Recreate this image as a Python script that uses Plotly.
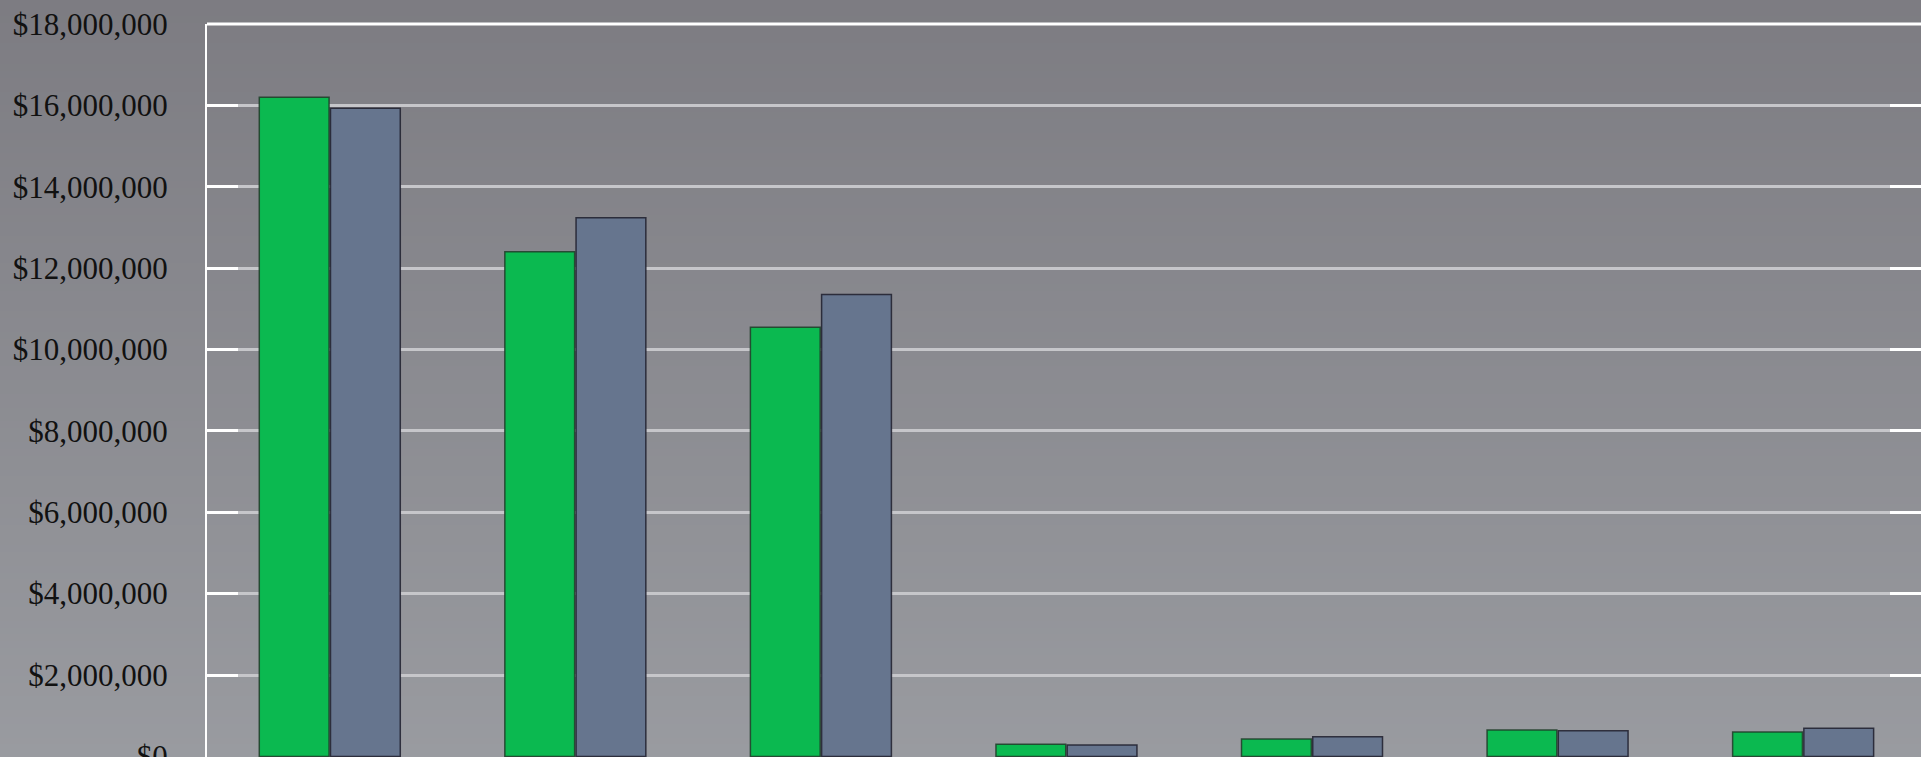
import base64, struct, zlib
import plotly.graph_objects as go

categories = ["A", "B", "C", "D", "E", "F", "G"]
series_1_name = "Series 1"
series_2_name = "Series 2"
series_1 = [16200000, 12400000, 10550000, 300000, 430000, 650000, 600000]
series_2 = [15930000, 13240000, 11350000, 280000, 480000, 630000, 690000]
y_ticks = [0, 2000000, 4000000, 6000000, 8000000, 10000000, 12000000,
           14000000, 16000000, 18000000]
y_tick_labels = ["$0", "$2,000,000", "$4,000,000", "$6,000,000", "$8,000,000",
                 "$10,000,000", "$12,000,000", "$14,000,000", "$16,000,000",
                 "$18,000,000"]


def gradient_png(top, bottom, n=128):
    rows = b""
    for i in range(n):
        t = i / (n - 1)
        c = bytes(int(round(top[k] + (bottom[k] - top[k]) * t)) for k in range(3))
        rows += b"\x00" + c
    def chunk(tag, data):
        return (struct.pack(">I", len(data)) + tag + data +
                struct.pack(">I", zlib.crc32(tag + data) & 0xffffffff))
    png = b"\x89PNG\r\n\x1a\n"
    png += chunk(b"IHDR", struct.pack(">IIBBBBB", 1, n, 8, 2, 0, 0, 0))
    png += chunk(b"IDAT", zlib.compress(rows))
    png += chunk(b"IEND", b"")
    return "data:image/png;base64," + base64.b64encode(png).decode()


bg = gradient_png((123, 122, 128), (156, 158, 163))
label_font = dict(family="Liberation Serif, Times New Roman, serif", size=31, color="#111111")
y_range = [-15000, 18000000]

fig = go.Figure()
fig.add_trace(go.Bar(
    x=categories, y=series_1, name=series_1_name,
    marker=dict(color="#0bb950", line=dict(color="rgba(30,60,40,0.85)", width=1.5)),
))
fig.add_trace(go.Bar(
    x=categories, y=series_2, name=series_2_name,
    marker=dict(color="#66758e", line=dict(color="rgba(30,30,45,0.85)", width=1.5)),
))
# invisible trace to drive the right-hand tick axis
fig.add_trace(go.Scatter(x=[categories[0]], y=[0], yaxis="y2", mode="markers",
                         marker=dict(opacity=0), showlegend=False, hoverinfo="skip"))

fig.update_layout(
    width=1921, height=757,
    margin=dict(l=207, r=0, t=24, b=0, autoexpand=False),
    paper_bgcolor="#8b8b90",
    plot_bgcolor="rgba(0,0,0,0)",
    barmode="group",
    bargap=0.42,
    bargroupgap=0.02,
    showlegend=False,
    font=label_font,
    images=[dict(source=bg, xref="paper", yref="paper", x=-1, y=1.1,
                 sizex=3, sizey=1.2, sizing="stretch", layer="below",
                 xanchor="left", yanchor="top")],
    xaxis=dict(
        range=[-0.5, 6.48], showticklabels=False, showgrid=False,
        zeroline=False, showline=False, ticks="", automargin=False,
    ),
    yaxis=dict(
        range=y_range, tickmode="array", tickvals=y_ticks, ticktext=y_tick_labels,
        showgrid=True, gridcolor="#c6c6ca", gridwidth=3,
        zeroline=False, showline=True, linecolor="white", linewidth=2,
        ticks="inside", ticklen=31, tickcolor="white", tickwidth=3,
        ticklabelstandoff=31, tickfont=label_font, ticklabeloverflow="allow",
        automargin=False,
    ),
    yaxis2=dict(
        range=y_range, tickmode="array", tickvals=y_ticks, overlaying="y", side="right",
        showticklabels=False, showgrid=False, zeroline=False, showline=False,
        ticks="inside", ticklen=31, tickcolor="white", tickwidth=3, automargin=False,
    ),
    shapes=[dict(type="line", xref="paper", yref="paper", x0=0, x1=1, y0=1, y1=1,
                 line=dict(color="white", width=3), layer="above")],
)

fig.write_html(
    "out.html",
    config={"displayModeBar": False},
    post_script="document.body.style.margin='0';document.body.style.padding='0';"
                "document.body.style.overflow='hidden';"
                "document.documentElement.style.background='#8b8b90';",
)
